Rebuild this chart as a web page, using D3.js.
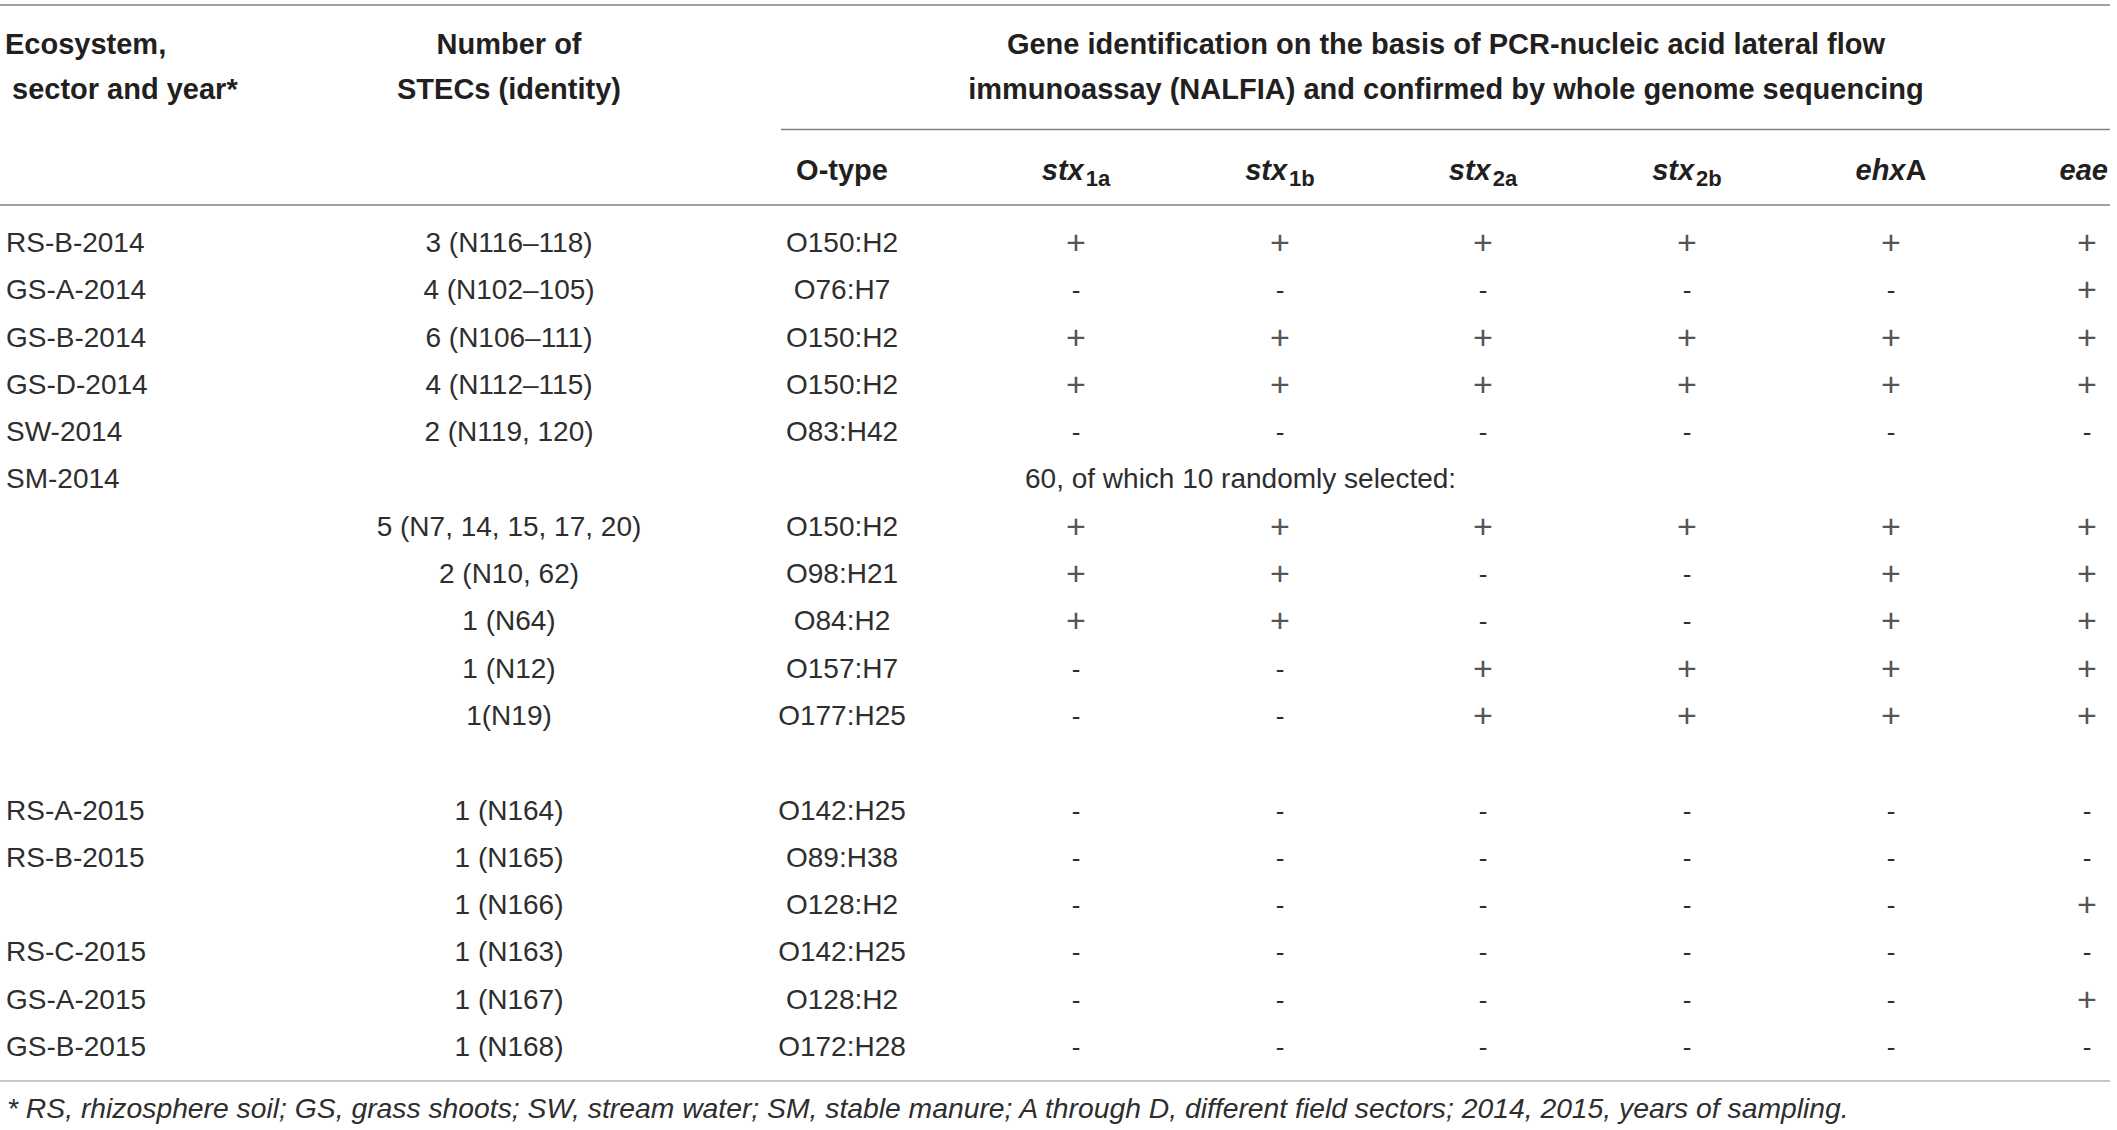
<!DOCTYPE html>
<html>
<head>
<meta charset="utf-8">
<script src="https://cdn.jsdelivr.net/npm/d3@7"></script>
<style>
  body { margin: 0; background: #fff; }
  svg text { font-family: "Liberation Sans", Arial, Helvetica, sans-serif; }
</style>
</head>
<body>
<script>
const width = 2117, height = 1130;

// ----- table data -----
const sectors = ["RS-B-2014", "GS-A-2014", "GS-B-2014", "GS-D-2014", "SW-2014", "SM-2014",
  "", "", "", "", "", "",
  "RS-A-2015", "RS-B-2015", "", "RS-C-2015", "GS-A-2015", "GS-B-2015"];

const isolates = ["3 (N116–118)", "4 (N102–105)", "6 (N106–111)", "4 (N112–115)", "2 (N119, 120)", "",
  "5 (N7, 14, 15, 17, 20)", "2 (N10, 62)", "1 (N64)", "1 (N12)", "1(N19)", "",
  "1 (N164)", "1 (N165)", "1 (N166)", "1 (N163)", "1 (N167)", "1 (N168)"];

const oTypes = ["O150:H2", "O76:H7", "O150:H2", "O150:H2", "O83:H42", "",
  "O150:H2", "O98:H21", "O84:H2", "O157:H7", "O177:H25", "",
  "O142:H25", "O89:H38", "O128:H2", "O142:H25", "O128:H2", "O172:H28"];

// gene results per row ("" = no entry)
const stx1a = ["+", "-", "+", "+", "-", "", "+", "+", "+", "-", "-", "", "-", "-", "-", "-", "-", "-"];
const stx1b = ["+", "-", "+", "+", "-", "", "+", "+", "+", "-", "-", "", "-", "-", "-", "-", "-", "-"];
const stx2a = ["+", "-", "+", "+", "-", "", "+", "-", "-", "+", "+", "", "-", "-", "-", "-", "-", "-"];
const stx2b = ["+", "-", "+", "+", "-", "", "+", "-", "-", "+", "+", "", "-", "-", "-", "-", "-", "-"];
const ehxA  = ["+", "-", "+", "+", "-", "", "+", "+", "+", "+", "+", "", "-", "-", "-", "-", "-", "-"];
const eae   = ["+", "+", "+", "+", "-", "", "+", "+", "+", "+", "+", "", "-", "-", "+", "-", "+", "-"];

const geneKeys = ["stx1a", "stx1b", "stx2a", "stx2b", "ehxA", "eae"];
const geneValues = [stx1a, stx1b, stx2a, stx2b, ehxA, eae];

const spanNote = { row: 5, text: "60, of which 10 randomly selected:" };
const footnote = "* RS, rhizosphere soil; GS, grass shoots; SW, stream water; SM, stable manure; A through D, different field sectors; 2014, 2015, years of sampling.";

// ----- scales -----
const columns = ["isolates", "otype"].concat(geneKeys);
const x = d3.scaleOrdinal()
    .domain(columns)
    .range([509, 842, 1076, 1280, 1483, 1687, 1891, 2087]);

const y = d3.scaleLinear()
    .domain([0, sectors.length - 1])
    .range([252, 1056]);

const svg = d3.select("body")
    .append("svg")
    .attr("width", width)
    .attr("height", height);

// ----- rules -----
const rules = [
  { x1: 0, x2: 2110, y: 5, c: "#808080" },
  { x1: 781, x2: 2110, y: 129.5, c: "#808080" },
  { x1: 0, x2: 2110, y: 205, c: "#808080" },
  { x1: 0, x2: 2110, y: 1081, c: "#b4b4b4" }
];
svg.selectAll("line.rule")
    .data(rules)
    .enter()
    .append("line")
    .attr("class", "rule")
    .attr("x1", d => d.x1)
    .attr("x2", d => d.x2)
    .attr("y1", d => d.y)
    .attr("y2", d => d.y)
    .attr("stroke", d => d.c)
    .attr("stroke-width", 1.6);

// ----- header -----
const head = svg.append("g")
    .style("font-weight", "bold")
    .style("font-size", "29px")
    .style("fill", "#231f20");

head.append("text").attr("x", 5).attr("y", 54).text("Ecosystem,");
head.append("text").attr("x", 12).attr("y", 99).text("sector and year*");

head.append("text").attr("x", 509).attr("y", 54).attr("text-anchor", "middle").text("Number of");
head.append("text").attr("x", 509).attr("y", 99).attr("text-anchor", "middle").text("STECs (identity)");

head.append("text").attr("x", 1446).attr("y", 54).attr("text-anchor", "middle")
    .text("Gene identification on the basis of PCR-nucleic acid lateral flow");
head.append("text").attr("x", 1446).attr("y", 99).attr("text-anchor", "middle")
    .text("immunoassay (NALFIA) and confirmed by whole genome sequencing");

head.append("text").attr("x", x("otype")).attr("y", 180).attr("text-anchor", "middle").text("O-type");

// gene header labels with italic stems and subscripts
const geneLabels = [
  { key: "stx1a", parts: [["stx", "i"], ["1a", "sub"]] },
  { key: "stx1b", parts: [["stx", "i"], ["1b", "sub"]] },
  { key: "stx2a", parts: [["stx", "i"], ["2a", "sub"]] },
  { key: "stx2b", parts: [["stx", "i"], ["2b", "sub"]] },
  { key: "ehxA", parts: [["ehx", "i"], ["A", "n"]] },
  { key: "eae", parts: [["eae", "i"]] }
];

geneLabels.forEach(g => {
  const t = head.append("text")
      .attr("x", g.key === "eae" ? 2108 : x(g.key))
      .attr("y", 180)
      .attr("text-anchor", g.key === "eae" ? "end" : "middle");
  g.parts.forEach(p => {
    const ts = t.append("tspan").text(p[0]);
    if (p[1] === "i") ts.style("font-style", "italic");
    if (p[1] === "sub") ts.attr("dy", 6).style("font-size", "22px").attr("dx", 2);
  });
});

// ----- body -----
const body = svg.append("g")
    .style("font-size", "28px")
    .style("fill", "#2e2e2e");

body.selectAll("text.sector")
    .data(sectors)
    .enter()
    .append("text")
    .attr("class", "sector")
    .attr("x", 6)
    .attr("y", (d, i) => y(i))
    .text(d => d);

body.selectAll("text.isolate")
    .data(isolates)
    .enter()
    .append("text")
    .attr("class", "isolate")
    .attr("x", x("isolates"))
    .attr("y", (d, i) => y(i))
    .attr("text-anchor", "middle")
    .text(d => d);

body.selectAll("text.otype")
    .data(oTypes)
    .enter()
    .append("text")
    .attr("class", "otype")
    .attr("x", x("otype"))
    .attr("y", (d, i) => y(i))
    .attr("text-anchor", "middle")
    .text(d => d);

geneKeys.forEach((k, gi) => {
  body.selectAll("text.g-" + k)
      .data(geneValues[gi])
      .enter()
      .append("text")
      .attr("class", "g-" + k)
      .attr("x", x(k))
      .attr("y", (d, i) => d === "+" ? y(i) + 2 : y(i))
      .attr("text-anchor", "middle")
      .style("font-size", d => d === "+" ? "34px" : "26px")
      .style("fill", d => d === "+" ? "#555" : "#2e2e2e")
      .text(d => d);
});

body.append("text")
    .attr("x", 1025)
    .attr("y", y(spanNote.row))
    .text(spanNote.text);

// ----- footnote -----
svg.append("text")
    .attr("x", 7)
    .attr("y", 1118)
    .style("font-size", "28.3px")
    .style("font-style", "italic")
    .style("fill", "#2e2e2e")
    .text(footnote);
</script>
</body>
</html>
